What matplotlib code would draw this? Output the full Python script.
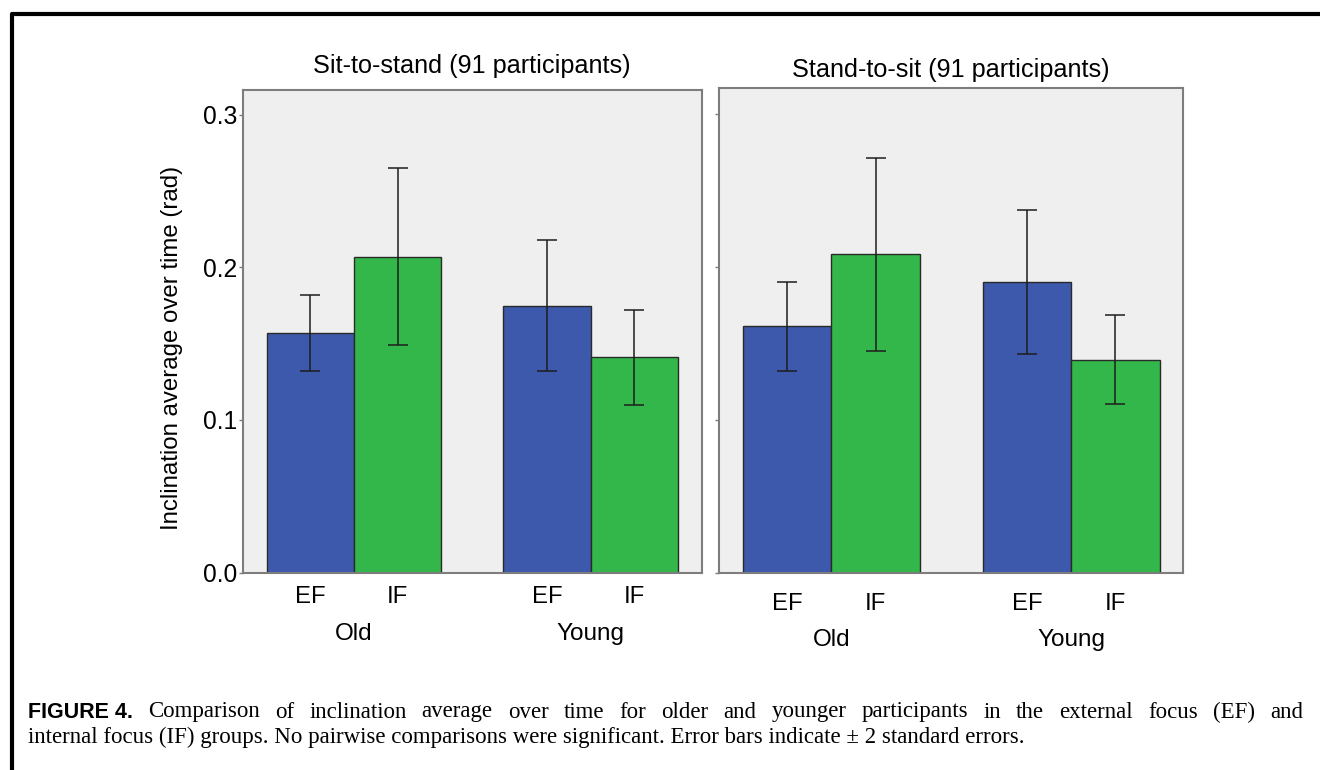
import matplotlib
matplotlib.use("Agg")
import matplotlib.pyplot as plt
from matplotlib.lines import Line2D
from matplotlib.transforms import blended_transform_factory
import numpy as np

# Bar order: Old EF, Old IF, Young EF, Young IF
groups = ["Old", "Young"]
conditions = ["EF", "IF"]
sit_to_stand_mean = [0.157, 0.207, 0.175, 0.141]
sit_to_stand_err = [0.025, 0.058, 0.043, 0.031]
stand_to_sit_mean = [0.161, 0.208, 0.190, 0.139]
stand_to_sit_err = [0.029, 0.063, 0.047, 0.029]
panel_titles = ["Sit-to-stand (91 participants)", "Stand-to-sit (91 participants)"]

caption_line1 = ["Comparison", "of", "inclination", "average", "over", "time", "for",
                 "older", "and", "younger", "participants", "in", "the", "external",
                 "focus", "(EF)", "and"]
caption_line2 = ("internal focus (IF) groups. No pairwise comparisons were significant. "
                 "Error bars indicate \u00b1 2 standard errors.")

W, H = 1320, 770
BLUE = "#3d59ab"
GREEN = "#33b74b"
PANEL_BG = "#efefef"
SPINE = "#7d7d7d"

plt.rcParams["font.family"] = ["Liberation Sans", "DejaVu Sans"]

fig = plt.figure(figsize=(W / 100, H / 100), dpi=100)
fig.patch.set_facecolor("white")


def px_axes(x0, y0, x1, y1):
    # axes from pixel box (top-left origin)
    return fig.add_axes([x0 / W, 1 - y1 / H, (x1 - x0) / W, (y1 - y0) / H])


group_centers = np.array([0.0, 2.71])
bar_x = np.concatenate([[c - 0.5, c + 0.5] for c in group_centers])
colors = [BLUE, GREEN, BLUE, GREEN]


def draw_panel(ax, means, errs, title, show_labels, label_dy, title_dy):
    ax.set_facecolor(PANEL_BG)
    ax.bar(bar_x, means, width=1.0, color=colors, edgecolor="#2a2a2a",
           linewidth=1.0, zorder=2)
    ax.errorbar(bar_x, means, yerr=errs, fmt="none", ecolor="#1e1e1e",
                elinewidth=1.1, capsize=7.5, capthick=1.1, zorder=3)
    ax.set_xlim(-1.27, 3.98)
    ax.set_ylim(0, 0.3167)
    ax.set_yticks([0.0, 0.1, 0.2, 0.3])
    if show_labels:
        ax.set_yticklabels(["0.0", "0.1", "0.2", "0.3"], fontsize=17.7)
    else:
        ax.set_yticklabels([])
    ax.set_xticks([])
    ax.tick_params(axis="y", direction="out", length=3, width=1.0,
                   color=SPINE, pad=1)
    for s in ax.spines.values():
        s.set_color(SPINE)
        s.set_linewidth(1.5)

    tr = blended_transform_factory(ax.transData, ax.transAxes)
    for i, x in enumerate(bar_x):
        ax.text(x, -0.051 - label_dy, conditions[i % 2], transform=tr,
                ha="center", va="center", fontsize=17.2)
    for g, c in zip(groups, group_centers):
        ax.text(c, -0.127 - label_dy, g, transform=tr,
                ha="center", va="center", fontsize=17.5)
    ax.text(0.5, 1 + title_dy / 483, title, transform=ax.transAxes,
            ha="center", va="center", fontsize=18.2)


ax1 = px_axes(243, 89.5, 701.5, 572.5)
draw_panel(ax1, sit_to_stand_mean, sit_to_stand_err, panel_titles[0], True, 0.0, 23)
ax2 = px_axes(719, 88, 1183.5, 572.5)
draw_panel(ax2, stand_to_sit_mean, stand_to_sit_err, panel_titles[1], False, 0.013, 18)

fig.text(172 / W, 1 - 348 / H, "Inclination average over time (rad)",
         rotation=90, ha="center", va="center", fontsize=17.3)

# outer frame (open on the right and bottom)
fig.add_artist(Line2D([11.5 / W, 11.5 / W, 1.0], [0.0, 1 - 13.5 / H, 1 - 13.5 / H],
                      transform=fig.transFigure, color="black", linewidth=3.0,
                      solid_capstyle="projecting"))

# caption: first line justified between x0 and x1
x0, x1 = 28, 1303
y1_cap, y2_cap = 712, 737
cap_size = 16.5
fig.canvas.draw()
renderer = fig.canvas.get_renderer()
tokens = [fig.text(0, 1 - y1_cap / H, "FIGURE 4.", fontsize=15.5,
                   fontweight="bold", color="black", va="center",
                   family=["Liberation Sans", "DejaVu Sans"])]
for w in caption_line1:
    tokens.append(fig.text(0, 1 - y1_cap / H, w, fontsize=cap_size, va="center",
                           family=["Liberation Serif", "DejaVu Serif"]))
widths = [t.get_window_extent(renderer).width for t in tokens]
gap = (x1 - x0 - sum(widths)) / (len(tokens) - 1)
xpos = x0
for t, w in zip(tokens, widths):
    t.set_x(xpos / W)
    xpos += w + gap

fig.text(x0 / W, 1 - y2_cap / H, caption_line2, fontsize=cap_size, va="center",
         family=["Liberation Serif", "DejaVu Serif"])

fig.savefig("out.png", dpi=100, facecolor="white")
